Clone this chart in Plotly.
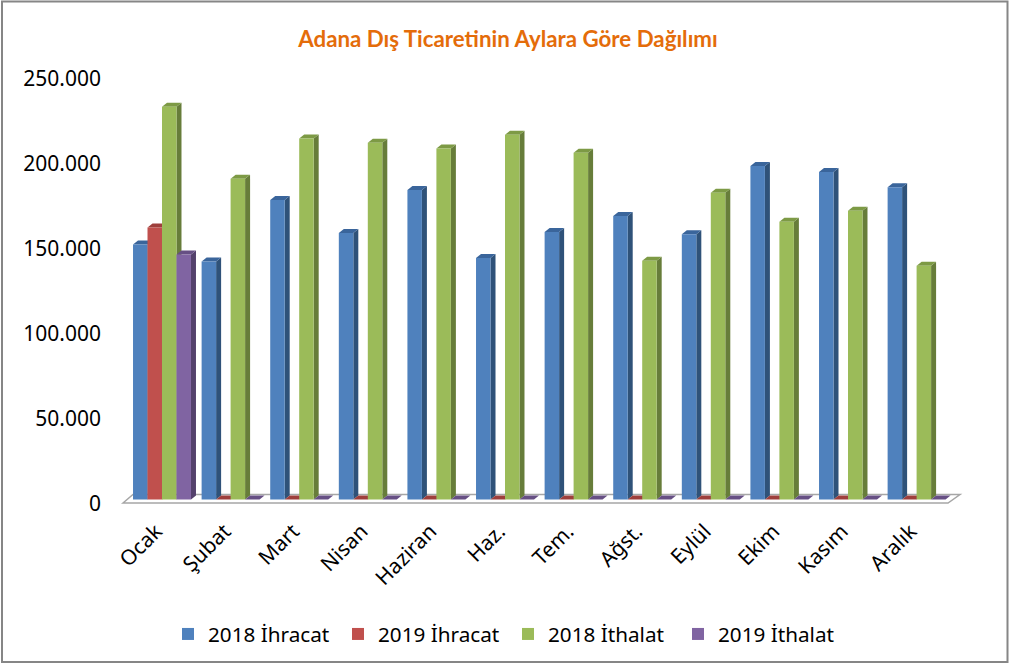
import plotly.graph_objects as go

months = ["Ocak", "Şubat", "Mart", "Nisan", "Haziran", "Haz.", "Tem.", "Ağst.", "Eylül", "Ekim", "Kasım", "Aralık"]
ihracat_2018 = [150000, 140000, 176200, 156700, 182000, 142000, 157300, 166700, 156100, 196200, 192600, 183700]
ihracat_2019 = [160000, 0, 0, 0, 0, 0, 0, 0, 0, 0, 0, 0]
ithalat_2018 = [231100, 188700, 212300, 209900, 206400, 214600, 204000, 140500, 180500, 163400, 169900, 137500]
ithalat_2019 = [144100, 0, 0, 0, 0, 0, 0, 0, 0, 0, 0, 0]
tick_values = [0, 50000, 100000, 150000, 200000, 250000]
tick_labels = ["0", "50.000", "100.000", "150.000", "200.000", "250.000"]
title_text = "Adana Dış Ticaretinin Aylara Göre Dağılımı"

series = [
    ("2018 İhracat", ihracat_2018, "#4F81BD", "#2F5279", "#3A659B"),
    ("2019 İhracat", ihracat_2019, "#C0504D", "#7F3432", "#9E3F3C"),
    ("2018 İthalat", ithalat_2018, "#9BBB59", "#677D3A", "#7D9A45"),
    ("2019 İthalat", ithalat_2019, "#8064A2", "#54416C", "#664F84"),
]

W, H = 1010, 664
L, R, T, B = 102, 965, 60, 510
PX_X = 68.6
PX_Y = 1.7 / 1000
X0, Y0 = 162, 499.5
xrange_ = [(L - X0) / PX_X, (R - X0) / PX_X]
yrange_ = [(Y0 - B) / PX_Y, (Y0 - T) / PX_Y]
BARGAP = 0.155
BW = (1 - BARGAP) / 4
DX, DY = 5 / PX_X, 4 / PX_Y

def dx(px):
    return (px - X0) / PX_X

def dy(px):
    return (Y0 - px) / PX_Y

def poly(points, color, line=None, width=0):
    path = "M " + " L ".join(f"{x},{y}" for x, y in points) + " Z"
    return dict(type="path", path=path, xref="x", yref="y", fillcolor=color, layer="below",
                line=dict(color=line or color, width=width))

fig = go.Figure()
shapes = []
shapes.append(poly([(dx(123), dy(503)), (dx(133), dy(494.5)), (dx(960), dy(494.5)), (dx(948), dy(503))],
                   "#FFFFFF", "#A6A6A6", 1.5))

for j, (name, values, front, side, top) in enumerate(series):
    fig.add_trace(go.Bar(name=name, x=list(range(len(months))), y=values,
                         marker=dict(color=front, line=dict(width=0))))
    for i, v in enumerate(values):
        xl = i + (j - 2) * BW
        xr = xl + BW
        if v > 0:
            shapes.append(poly([(xr, 0), (xr + DX, DY), (xr + DX, v + DY), (xr, v)], side))
        shapes.append(poly([(xl, v), (xl + DX, v + DY), (xr + DX, v + DY), (xr, v)], top))

shapes.append(dict(type="rect", xref="paper", yref="paper", x0=2 / W, x1=1007.5 / W,
                   y0=1 - 662 / H, y1=1 - 1.5 / H, line=dict(color="#868686", width=2),
                   fillcolor="rgba(0,0,0,0)", layer="below"))

fig.update_layout(
    width=W, height=H, autosize=False,
    margin=dict(l=0, r=0, t=0, b=0, pad=0),
    paper_bgcolor="#FFFFFF", plot_bgcolor="#FFFFFF",
    barmode="group", bargap=BARGAP, bargroupgap=0,
    font=dict(family="Noto Sans", color="#000000"),
    shapes=shapes,
    title=dict(text=f"<b>{title_text}</b>", x=508 / W, xanchor="center", y=1 - 39 / H, yanchor="middle",
               font=dict(family="Lato", size=22.3, color="#E46C0A")),
    xaxis=dict(domain=[L / W, R / W], range=xrange_, tickmode="array", tickvals=list(range(len(months))),
               ticktext=months, tickangle=-45, tickfont=dict(size=21), showgrid=False, zeroline=False,
               showline=False, ticks="", ticklabelstandoff=4, ticklabelshift=-6, automargin=False),
    yaxis=dict(domain=[1 - B / H, 1 - T / H], range=yrange_, tickmode="array", tickvals=tick_values,
               ticktext=tick_labels, tickfont=dict(size=21), showgrid=False, zeroline=False,
               showline=False, ticks="", ticklabelshift=4, automargin=False),
    legend=dict(orientation="h", x=168 / W, xanchor="left", y=1 - 634 / H, yanchor="middle",
                entrywidth=125, entrywidthmode="pixels", font=dict(size=20.7), traceorder="normal",
                bgcolor="rgba(0,0,0,0)", itemclick=False, itemdoubleclick=False),
    showlegend=True,
)

fig.write_html("out.html", config={"displayModeBar": False},
               post_script="document.body.style.margin='0';document.body.style.overflow='hidden';")
